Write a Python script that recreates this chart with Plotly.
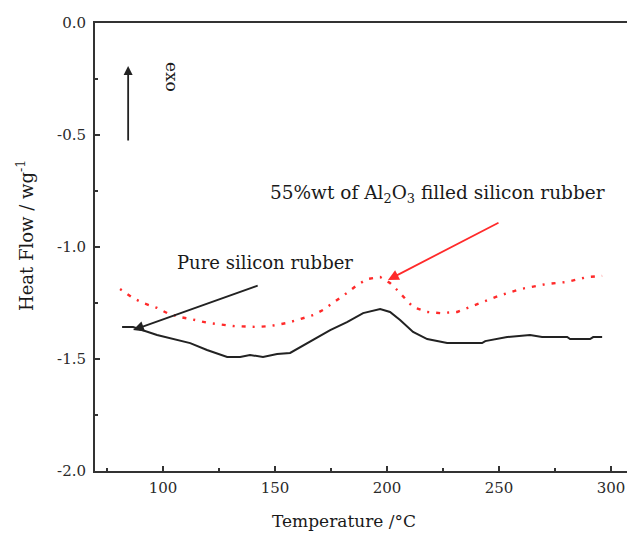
import plotly.graph_objects as go

# Pure silicon rubber (black solid)
pure_T = [81.7, 86.6, 97.3, 106.3, 112.1, 119.6, 128.6, 134.4, 138.8, 144.6, 150.9, 156.7,
          167.0, 174.6, 182.1, 189.3, 196.9, 201.3, 205.8, 211.6, 217.9, 226.8, 232.6,
          242.4, 243.8, 249.1, 253.6, 263.8, 269.2, 280.4, 281.7, 290.6, 292.0, 296.0]
pure_HF = [-1.357, -1.357, -1.393, -1.415, -1.429, -1.460, -1.491, -1.491, -1.482, -1.491,
           -1.478, -1.473, -1.415, -1.371, -1.335, -1.295, -1.277, -1.290, -1.326, -1.379,
           -1.411, -1.429, -1.429, -1.429, -1.420, -1.411, -1.402, -1.393, -1.402, -1.402,
           -1.411, -1.411, -1.402, -1.402]

# 55%wt Al2O3 filled silicon rubber (red dash-dot)
filled_T = [80.8, 86.6, 91.1, 97.3, 101.8, 107.6, 112.1, 120.1, 131.3, 142.0, 147.8, 155.4,
            159.8, 167.0, 171.4, 177.7, 182.1, 186.6, 191.1, 196.9, 201.3, 204.5, 208.9,
            211.6, 217.9, 223.7, 231.3, 238.4, 241.5, 249.6, 259.4, 267.0, 271.4, 280.4,
            289.3, 296.0]
filled_HF = [-1.188, -1.228, -1.250, -1.272, -1.295, -1.313, -1.321, -1.339, -1.353, -1.357,
             -1.353, -1.339, -1.326, -1.304, -1.281, -1.237, -1.205, -1.170, -1.143, -1.134,
             -1.161, -1.192, -1.237, -1.268, -1.290, -1.295, -1.290, -1.263, -1.250, -1.219,
             -1.188, -1.174, -1.165, -1.156, -1.134, -1.129]

x_tick_vals = [100, 150, 200, 250, 300]
x_tick_text = ["100", "150", "200", "250", "300"]
y_tick_vals = [0.0, -0.5, -1.0, -1.5, -2.0]
y_tick_text = ["0.0", "-0.5", "-1.0", "-1.5", "-2.0"]

FONT = "DejaVu Serif"
AX = "#333333"
TXT = "#1a1a1a"

# page body has an 8px margin: figure is offset by (8, 8)
OFF = 8
W, H = 635 - 2 * OFF, 536 - OFF
L, T = 95 - OFF, 23 - OFF          # plot area starts at window (95, 23)
B = H - (471 - OFF)                # plot bottom at window y=471
PW, PH = W - L, H - T - B


def px(xw):
    return (xw - 95) / PW


def py(yw):
    return (471 - yw) / PH


X_MIN = 69.6
X_MAX = X_MIN + PW / 2.24           # 2.24 px per degree as in the reference

fig = go.Figure()
fig.add_trace(go.Scatter(x=pure_T, y=pure_HF, mode="lines",
                         line=dict(color="#222222", width=2), showlegend=False))
fig.add_trace(go.Scatter(x=filled_T, y=filled_HF, mode="lines",
                         line=dict(color="#ff2a2a", width=2.4, dash="2px,7px,4px,7px"),
                         showlegend=False))

annotations = [
    # exo arrow
    dict(x=84.4, y=-0.192, ax=84.4, ay=-0.531, xref="x", yref="y", axref="x", ayref="y",
         text="", showarrow=True, arrowhead=2, arrowsize=1, arrowwidth=1.8, arrowcolor="#222"),
    dict(x=104.0, y=-0.241, xref="x", yref="y", text="exo", showarrow=False, textangle=90,
         xanchor="center", yanchor="middle",
         font=dict(family=FONT, size=17, color=TXT)),
    # Pure silicon rubber
    dict(x=86.6, y=-1.371, ax=142.9, ay=-1.170, xref="x", yref="y", axref="x", ayref="y",
         text="", showarrow=True, arrowhead=2, arrowsize=1.2, arrowwidth=1.8, arrowcolor="#222"),
    dict(x=145.5, y=-1.071, xref="x", yref="y", text="Pure silicon rubber", showarrow=False,
         xanchor="center", yanchor="middle",
         font=dict(family=FONT, size=18, color=TXT)),
    # Filled
    dict(x=200.4, y=-1.147, ax=250.4, ay=-0.888, xref="x", yref="y", axref="x", ayref="y",
         text="", showarrow=True, arrowhead=2, arrowsize=1.2, arrowwidth=1.8, arrowcolor="#ff2a2a"),
    dict(x=222.5, y=-0.763, xref="x", yref="y",
         text="55%wt of Al<sub>2</sub>O<sub>3</sub> filled silicon rubber", showarrow=False,
         xanchor="center", yanchor="middle",
         font=dict(family=FONT, size=18.5, color=TXT)),
    # axis titles
    dict(x=px(344), y=py(521), xref="paper", yref="paper",
         text="Temperature /°C", showarrow=False, xanchor="center", yanchor="middle",
         font=dict(family=FONT, size=17, color=TXT)),
    dict(x=px(25), y=py(236), xref="paper", yref="paper",
         text="Heat Flow / wg<sup>-1</sup>", showarrow=False, textangle=-90,
         xanchor="center", yanchor="middle",
         font=dict(family=FONT, size=18, color=TXT)),
]

fig.update_layout(
    width=W, height=H,
    margin=dict(l=L, r=0, t=T, b=B, autoexpand=False),
    paper_bgcolor="white", plot_bgcolor="white",
    annotations=annotations,
    showlegend=False,
)
fig.update_xaxes(range=[X_MIN, X_MAX], showgrid=False, zeroline=False,
                 showline=True, linecolor=AX, linewidth=2, mirror=True,
                 ticks="inside", ticklen=5, tickwidth=1.5, tickcolor=AX,
                 tickvals=x_tick_vals, ticktext=x_tick_text,
                 tickfont=dict(family=FONT, size=15, color="#2a2a2a"),
                 ticklabelstandoff=2,
                 minor=dict(ticks="inside", ticklen=3, tickwidth=1.5, tickcolor=AX, dtick=25,
                            tick0=75, showgrid=False))
fig.update_yaxes(range=[-2.0, 0.0], showgrid=False, zeroline=False,
                 showline=True, linecolor=AX, linewidth=2,
                 ticks="inside", ticklen=5, tickwidth=1.5, tickcolor=AX,
                 tickvals=y_tick_vals, ticktext=y_tick_text,
                 tickfont=dict(family=FONT, size=15, color="#2a2a2a"),
                 ticklabelstandoff=4,
                 minor=dict(ticks="inside", ticklen=3, tickwidth=1.5, tickcolor=AX, dtick=0.25,
                            tick0=0, showgrid=False))

fig.write_html("out.html")
